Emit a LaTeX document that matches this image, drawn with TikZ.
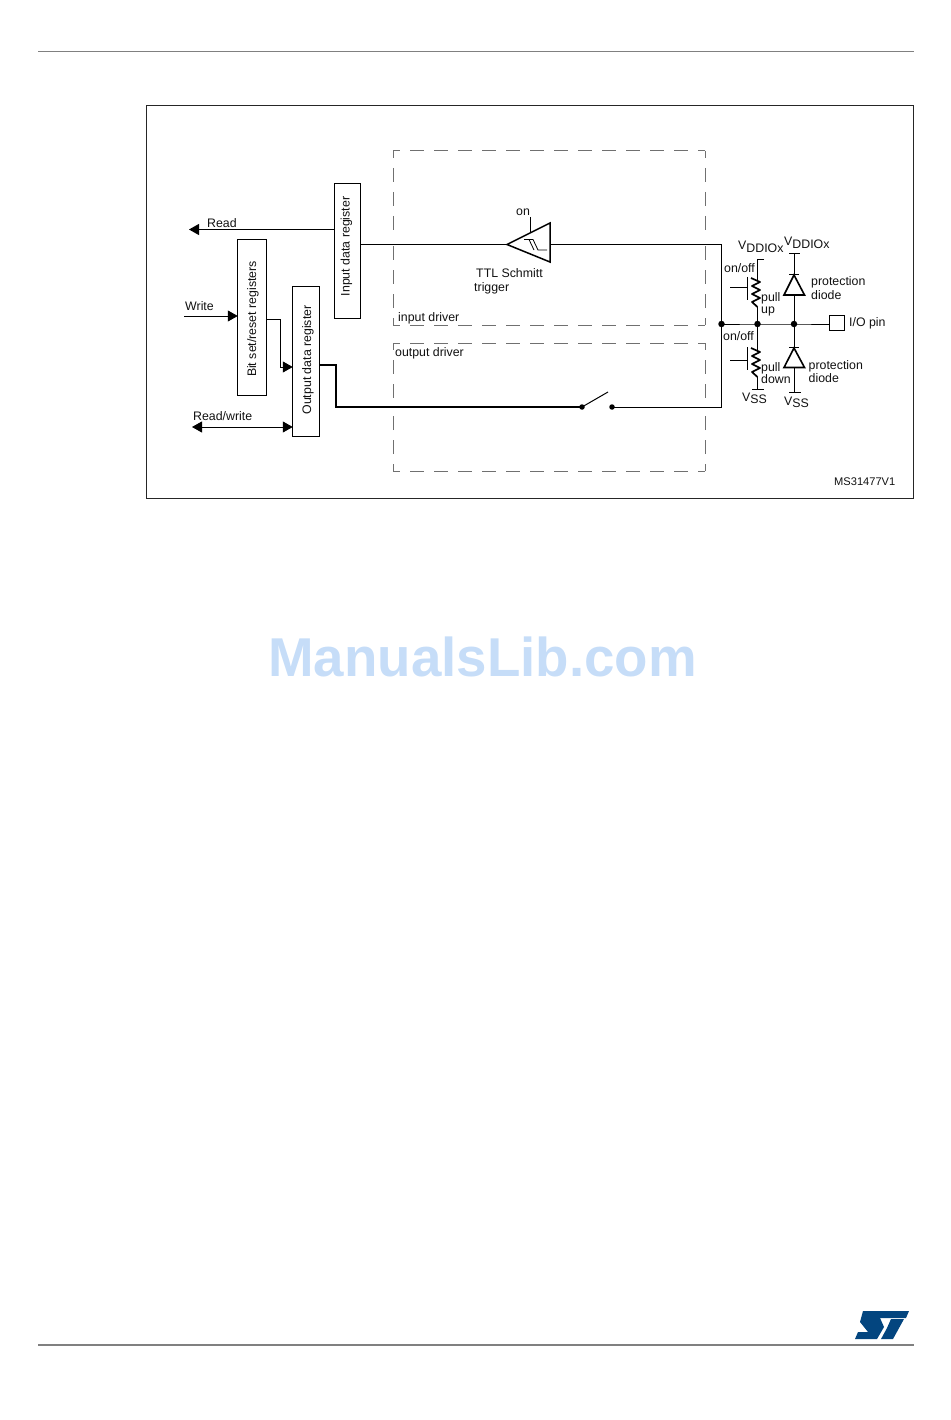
\documentclass[tikz,border=0pt]{standalone}
\usepackage{fontspec}
\usepackage{graphicx}
\setmainfont{Liberation Sans}
\usetikzlibrary{arrows.meta}
\definecolor{txt}{HTML}{111111}
\definecolor{dashgray}{HTML}{707070}
\definecolor{rulegray}{HTML}{808080}
\definecolor{stblue}{HTML}{03457F}
\definecolor{wm}{HTML}{C6DDF8}
\tikzset{
  x=1pt,y=-1pt,
  wire/.style={draw=black,line width=1pt},
  thickwire/.style={draw=black,line width=1.7pt},
  zigzag/.style={draw=black,line width=1.7pt,line join=round},
  diode/.style={draw=black,line width=1.6pt,fill=white},
  regbox/.style={draw=black,line width=1pt,inner sep=0pt,fill=white},
  lab/.style={anchor=base west,inner sep=0pt,text=txt,font=\fontsize{12.35}{14}\selectfont},
  vlab/.style={inner sep=0pt,text=txt,font=\fontsize{12.35}{14}\selectfont},
  smalllab/.style={anchor=base west,inner sep=0pt,text=txt,font=\fontsize{11.1}{13}\selectfont},
  drv/.style={draw=dashgray,line width=1pt,dash pattern=on 14pt off 10pt,dash phase=7pt},
  tipf/.style={-{Triangle[length=10pt,width=11pt]},shorten >=-1pt},
  tipb/.style={{Triangle[length=10pt,width=11pt]}-{Triangle[length=10pt,width=11pt]},shorten >=-1pt},
  junction/.style={circle,fill=black,inner sep=0pt,minimum size=6.5pt},
}
\newcommand{\myvdd}{V\raisebox{-2.5pt}{DDIOx}}
\newcommand{\myvss}{V\raisebox{-2.5pt}{SS}}
\begin{document}
\begin{tikzpicture}
\useasboundingbox (0,0) rectangle (950,1420);
% page rules
\coordinate (rtl) at (38,52); \coordinate (rtr) at (914,52);
\coordinate (rbl) at (38,1345); \coordinate (rbr) at (914,1345);
\draw[draw=rulegray,line width=1pt] (rtl) -- (rtr);
\draw[draw=rulegray,line width=1.4pt] (rbl) -- (rbr);
% frame
\node[draw=black!85,line width=1pt,inner sep=0pt,minimum width=767pt,minimum height=392.5pt] (frame) at (529.5,301.75) {};
% driver boxes
\draw[drv] (393,151) -- (705,151);
\draw[drv] (393,151) -- (393,238);
\draw[drv] (393,325) -- (393,238);
\draw[drv] (705,151) -- (705,238);
\draw[drv] (705,325) -- (705,238);
\draw[drv] (393,325) -- (705,325);
\draw[drv] (393,343) -- (705,343);
\draw[drv] (393,343) -- (393,407);
\draw[drv] (393,471) -- (393,407);
\draw[drv] (705,343) -- (705,407);
\draw[drv] (705,471) -- (705,407);
\draw[drv] (393,471) -- (705,471);
\node[lab] (tinp) at (398,321) {input driver};
\node[lab] (tout) at (395,356) {output driver};
% registers
\node[regbox,minimum width=26.5pt,minimum height=135.5pt] (inreg) at (347.5,251) {};
\node[regbox,minimum width=29.5pt,minimum height=156.5pt] (bitreg) at (252,317.5) {};
\node[regbox,minimum width=27.5pt,minimum height=150.5pt] (outreg) at (306,361.5) {};
\node[vlab] (tinreg) at (346.5,246.5) {\rotatebox{90}{Input data register}};
\node[vlab] (tbit) at (253,319) {\rotatebox{90}{Bit set/reset registers}};
\node[vlab] (toutreg) at (308,360) {\rotatebox{90}{Output data register}};
% left connectors
\coordinate (readend) at (190,229.5);
\coordinate (writestart) at (184,316);
\coordinate (rwend) at (192,427);
\draw[wire,tipf] (inreg.west |- readend) -- (readend);
\draw[wire,tipf] (writestart) -- (bitreg.west |- writestart);
\coordinate (bo1) at (280,319.5); \coordinate (bo2) at (280,367);
\draw[wire,tipf] (bitreg.east |- bo1) -- (bo1) -- (bo2) -- (outreg.west |- bo2);
\draw[wire,tipb] (rwend) -- (outreg.west |- rwend);
\node[lab] (tread) at (207,228) {Read};
\node[lab] (twrite) at (185,311) {Write};
\node[lab] (trw) at (193,420) {Read/write};
% Schmitt trigger
\coordinate (sa) at (507,244.5); \coordinate (sb) at (550,223); \coordinate (sc) at (550,262);
\draw[black,line width=1.5pt,line join=miter,fill=white] (sa) -- (sb) -- (sc) -- cycle;
\coordinate (on1) at (530,217); \coordinate (on2) at (530,233);
\draw[wire] (on1) -- (on2);
\draw[black,line width=.8pt] (524,239.5) -- (533,239.5) -- (538,250) -- (547,250);
\draw[black,line width=.8pt] (529,239.5) -- (534,250);
\node[lab] (ton) at (516,215.5) {on};
\node[lab] (tttl) at (476,277.5) {TTL Schmitt};
\node[lab] (ttrig) at (474,291) {trigger};
\coordinate (inwire) at (361,244.5);
\coordinate (c1) at (721.5,244.5);
\draw[wire] (inreg.east |- inwire) -- (sa);
\draw[wire] (550,244.5) -- (c1);
% output path and switch
\coordinate (o1) at (336,365); \coordinate (o2) at (336,407);
\node[junction,minimum size=5.5pt] (sw1) at (582,407) {};
\node[junction,minimum size=5.5pt] (sw2) at (612,407) {};
\coordinate (blade) at (608,392);
\draw[thickwire] (outreg.east |- o1) -- (o1) -- (o2) -- (sw1.center);
\draw[wire] (sw1.center) -- (blade);
\coordinate (c2) at (721.5,407);
\draw[wire] (sw2.center) -- (c2);
% junctions
\node[junction] (j1) at (721.5,324) {};
\node[junction] (j2) at (757.5,324) {};
\node[junction] (j3) at (794,324) {};
\node[draw=black,line width=1pt,inner sep=0pt,minimum width=15pt,minimum height=15pt] (pin) at (836.5,323) {};
\draw[wire] (c1) -- (j1.center) -- (c2);
\draw[wire] (j1.center) -- (j2.center) -- (j3.center) -- (pin.west |- j3);
% pull up
\coordinate (u0a) at (757.5,259.5); \coordinate (u0b) at (764,259.5);
\draw[wire] (u0b) -- (u0a) -- (757.5,281);
\draw[zigzag] (751,278) -- (760,282) -- (752,286) -- (760,290) -- (752,294) -- (760,298) -- (752,302) -- (757.5,307);
\draw[wire] (757.5,307) -- (j2.center);
\coordinate (ug1) at (747.5,277); \coordinate (ug2) at (747.5,300);
\draw[wire] (ug1) -- (ug2);
\coordinate (us) at (730,288);
\draw[wire] (us) -- (ug1 |- us);
% pull down
\coordinate (d0a) at (752,389); \coordinate (d0b) at (764,389);
\draw[wire] (j2.center) -- (757.5,352);
\draw[zigzag] (751,348) -- (760,352) -- (752,356) -- (760,360) -- (752,364) -- (760,368) -- (752,372) -- (757.5,377);
\draw[wire] (757.5,377) -- (757.5,389);
\draw[wire] (d0a) -- (d0b);
\coordinate (dg1) at (747.5,347); \coordinate (dg2) at (747.5,370);
\draw[wire] (dg1) -- (dg2);
\coordinate (ds) at (730,360);
\draw[wire] (ds) -- (dg1 |- ds);
% protection diodes
\coordinate (p1a) at (789,253.5); \coordinate (p1b) at (800,253.5); \coordinate (p1c) at (794,253.5);
\draw[wire] (p1a) -- (p1b);
\draw[wire] (p1c) -- (j3.center);
\draw[diode] (794,275) -- (804.5,295) -- (784,295) -- cycle;
\draw[wire] (789,274.5) -- (799,274.5);
\coordinate (p2a) at (789,392); \coordinate (p2b) at (801,392); \coordinate (p2c) at (794,392);
\draw[wire] (p2a) -- (p2b);
\draw[wire] (j3.center) -- (p2c);
\draw[diode] (794,348) -- (804.5,367.5) -- (784,367.5) -- cycle;
\draw[wire] (789,347.5) -- (799,347.5);
% right labels
\node[lab] (tv1) at (738,250) {\myvdd};
\node[lab] (tv2) at (784,246) {\myvdd};
\node[lab] (toff1) at (724,272.5) {on/off};
\node[lab] (toff2) at (723,340) {on/off};
\node[lab] (tpu1) at (761,301.5) {pull};
\node[lab] (tpu2) at (761,313.5) {up};
\node[lab] (tpd1) at (761,371.5) {pull};
\node[lab] (tpd2) at (761,383.5) {down};
\node[lab] (tp1a) at (811,286) {protection};
\node[lab] (tp1b) at (811,299) {diode};
\node[lab] (tp2a) at (808.5,369) {protection};
\node[lab] (tp2b) at (808.5,382) {diode};
\node[lab] (tpin) at (849,326) {I/O pin};
\node[lab] (tv3) at (742,401) {\myvss};
\node[lab] (tv4) at (784,405) {\myvss};
\node[smalllab] (tms) at (834,485) {MS31477V1};
% watermark
\node[anchor=base west,inner sep=0pt,text=wm,font=\fontsize{54.7}{60}\selectfont\bfseries] (twm) at (268,676) {ManualsLib.com};
% ST logo
\fill[stblue] (863,1311) -- (909,1311) -- (906,1318) -- (880,1318) -- (884,1327) -- (877,1339) -- (855,1339) -- (858,1332) -- (868,1332) -- (860,1322) -- cycle;
\fill[stblue] (891,1319) -- (904,1319) -- (893,1339) -- (881,1339) -- (887,1328) -- cycle;
\end{tikzpicture}
\end{document}
